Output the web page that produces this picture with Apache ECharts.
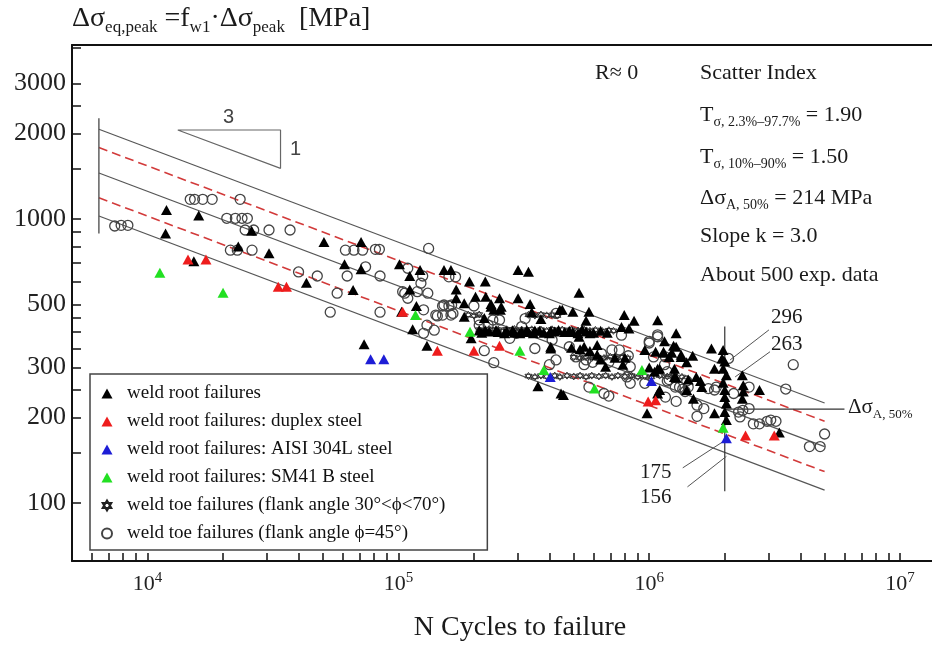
<!DOCTYPE html>
<html>
<head>
<meta charset="utf-8">
<title>S-N weld root / toe failures</title>
<script src="https://cdn.jsdelivr.net/npm/echarts@6/dist/echarts.min.js"></script>
<style>
  html, body { margin: 0; padding: 0; background: #fff; }
  #main { width: 932px; height: 645px; }
</style>
</head>
<body>
<div id="main"></div>
<script type="text/javascript">
// axis ranges / ticks
var xMin = 5000, xMax = 1.34e7;
var yMin = 62.5, yMax = 4100;
var xTicks = [6e3, 7e3, 8e3, 9e3, 1e4, 2e4, 3e4, 4e4, 5e4, 6e4, 7e4, 8e4, 9e4,
              1e5, 2e5, 3e5, 4e5, 5e5, 6e5, 7e5, 8e5, 9e5,
              1e6, 2e6, 3e6, 4e6, 5e6, 6e6, 7e6, 8e6, 9e6, 1e7];
var xLabels = [1e4, 1e5, 1e6, 1e7];
var yTicks = [100, 150, 200, 250, 300, 350, 400, 450, 500, 600, 700, 800, 900,
              1000, 1500, 2000, 2500, 3000, 4000];
var yLabels = [100, 200, 300, 500, 1000, 2000, 3000];

// S-N lines at N = 6400 and N = 5e6 (levels 296 / 263 / 214 / 175 / 156 at 2e6)
var snN = [6400, 5.0e6];
var snUpper = [2070, 225];
var snUpper10 = [1785, 194];
var snMid = [1452, 158];
var snLower10 = [1188, 129];
var snLower = [1025, 111];

// reference / leader lines
var leftBracket = [[6400, 2263], [6400, 890]];
var ref2e6 = [[2e6, 418], [2e6, 110]];
var ref214 = [[2e6, 214], [6.0e6, 214]];
var lead296 = [[3.0e6, 407], [2.1e6, 319]];
var lead263 = [[3.03e6, 341], [2.2e6, 278]];
var lead175 = [[1.36e6, 133], [2.0e6, 166]];
var lead156 = [[1.42e6, 114], [2.03e6, 146]];
var slopeTri = [[1.32e4, 2058], [3.39e4, 2058], [3.39e4, 1508], [1.32e4, 2058]];

// weld root failures
var rootBlack = [
  [1.19e4,1075],[1.6e4,1030],[1.18e4,890],[1.53e4,710],[2.6e4,910],[2.3e4,800],[3.05e4,757],[4.3e4,597],
  [5.05e4,830],[7.1e4,830],[6.1e4,693],[7.1e4,666],[1.01e5,693],[1.22e5,661],[1.11e5,630],[1.52e5,661],[1.62e5,661],
  [1.92e5,602],[2.22e5,602],[3.0e5,661],[3.3e5,652],[6.6e4,562],[1.11e5,565],[1.7e5,565],[2.03e5,532],[2.23e5,532],
  [2.53e5,526],[1.7e5,526],[1.83e5,505],[2.34e5,491],[2.57e5,491],[1.18e5,494],[1.03e5,472],[1.83e5,453],[1.14e5,409],
  [1.95e5,380],[2.22e5,406],[7.3e4,362],[1.3e5,358],
  [2.34e5,502],[3.0e5,526],[3.35e5,502],[2.2e5,448],[2.4e5,479],[2.55e5,479],[4.4e5,479],[4.05e5,355],[3.6e5,258],[4.45e5,243],
  [5.25e5,550],[4.5e5,479],[4.96e5,472],[5.75e5,472],[5.6e5,438],[7.95e5,459],[8.7e5,438],[7.75e5,417],[8.3e5,412],[1.08e6,440],[1.28e6,396],
  [4.05e5,404],[4.95e5,400],[5.25e5,385],[5.5e5,355],[6.2e5,360],[4.05e5,350],[6.2e5,333],[6.4e5,320],[7.3e5,325],[8.0e5,325],
  [6.7e5,302],[7.85e5,307],[9.6e5,346],[1.06e6,341],[1.14e6,341],[1.2e6,327],[1.34e6,327],[1.0e6,300],[1.08e6,297],[1.28e6,355],[1.41e6,313],[1.26e6,297],
  [4.55e5,240],[1.08e6,243],[1.26e6,278],
  [1.15e6,371],[1.25e6,358],[1.14e6,338],[1.23e6,338],[1.34e6,333],[1.49e6,330],[1.77e6,350],[1.97e6,346],[1.95e6,323],[2.0e6,315],
  [1.82e6,297],[1.97e6,297],[2.03e6,282],[1.05e6,290],[1.1e6,297],[1.28e6,276],[1.43e6,272],[1.54e6,278],[1.62e6,256],[1.6e6,269],
  [1.97e6,265],[2.0e6,250],[2.35e6,282],[2.37e6,260],[2.35e6,233],[2.37e6,247],[2.75e6,250],[2.0e6,236],[2.03e6,224],[1.82e6,207],
  [2.0e6,209],[2.03e6,196],[1.41e6,250],[1.5e6,233],[1.1e6,250],[9.8e5,207],[3.3e6,177],
  [2.1e5,405],[2.3e5,402],[2.5e5,400],[2.7e5,403],[2.9e5,398],[3.1e5,402],[3.3e5,400],[3.5e5,405],[3.8e5,398],
  [4.2e5,402],[4.6e5,400],[5.2e5,396],[5.6e5,402],[6.0e5,398],[3.4e5,470],[3.7e5,445],
  [2.15e5,398],[2.45e5,407],[2.65e5,396],[2.85e5,406],[3.05e5,396],[3.25e5,407],[3.45e5,396],[3.65e5,404],
  [4.0e5,396],[4.35e5,407],[4.8e5,404],[5.4e5,408],[5.8e5,396],[6.4e5,404],[6.8e5,398],
  [4.9e5,352],[5.3e5,348],[5.8e5,343]
];
var rootDuplex = [[1.45e4,721],[1.71e4,721],[3.32e4,577],[3.58e4,577],[1.43e5,344],[2.0e5,344],[2.53e5,358],
  [1.04e5,472],[9.9e5,228],[1.06e6,230],[2.42e6,173],[3.15e6,173]];
var rootAisi = [[7.75e4,321],[8.75e4,321],[4.03e5,278],[1.02e6,269],[2.03e6,169]];
var rootSm41 = [[1.12e4,647],[2.0e4,550],[1.17e5,459],[1.93e5,401],[3.05e5,344],[3.8e5,294],[9.35e5,294],[6.05e5,253],[1.97e6,184]];

// weld toe failures
var toeStar = [
  [2.1e5,408],[2.2e5,404],[2.3e5,410],[2.4e5,405],[2.5e5,408],[2.6e5,403],[2.7e5,409],[2.8e5,405],[2.9e5,410],[3.0e5,404],
  [3.1e5,408],[3.2e5,403],[3.4e5,409],[3.5e5,404],[3.7e5,408],[3.9e5,404],[4.1e5,409],[4.3e5,405],[4.5e5,408],[4.7e5,403],
  [4.9e5,408],[5.2e5,405],[5.5e5,408],[5.8e5,404],[6.1e5,407],[6.5e5,403],[6.9e5,406],[7.2e5,404],
  [3.3e5,280],[3.5e5,278],[3.7e5,281],[3.9e5,279],[4.2e5,281],[4.4e5,278],[4.7e5,281],[5.0e5,279],[5.3e5,281],[5.6e5,278],
  [5.9e5,281],[6.3e5,279],[6.7e5,281],[7.1e5,278],[7.5e5,281],[8.0e5,279],[8.5e5,281],[9.0e5,278],[9.6e5,280],[1.02e6,278],
  [1.1e6,281],[1.18e6,279],[1.26e6,281],[1.35e6,278],
  [5.0e5,326],[5.3e5,324],[5.6e5,327],[5.9e5,324],[6.2e5,326],[6.6e5,324],[7.0e5,327],[7.4e5,324],[7.8e5,326],[8.2e5,324],
  [3.3e5,460],[3.5e5,457],[3.7e5,461],[3.9e5,458],[4.1e5,460],[4.3e5,457],
  [1.9e5,460],[2.0e5,457],[2.1e5,461]
];
var toeCircle = [
  [7.4e3,945],[7.85e3,950],[8.35e3,950],[1.48e4,1173],[1.54e4,1173],[1.66e4,1173],[1.81e4,1173],[2.34e4,1173],
  [2.07e4,1006],[2.24e4,1006],[2.38e4,1006],[2.5e4,1006],[2.45e4,915],[2.65e4,915],[3.05e4,915],[3.7e4,915],
  [2.14e4,777],[2.28e4,777],[2.61e4,777],[4.0e4,651],[6.15e4,777],[6.65e4,777],[7.2e4,777],[8.1e4,782],[8.4e4,782],
  [1.32e5,788],[7.4e4,679],[8.45e4,630],[6.25e4,630],[4.75e4,630],[5.7e4,548],[5.35e4,470],[8.45e4,470],
  [1.04e5,555],[1.09e5,526],[1.23e5,594],[1.19e5,555],[1.31e5,548],[1.25e5,630],[1.59e5,626],[1.69e5,626],
  [1.5e5,494],[1.59e5,494],[1.43e5,456],[1.26e5,479],[1.3e5,423],[1.39e5,406],[1.26e5,396],[1.62e5,459],
  [2.0e5,494],[2.1e5,441],[2.38e5,441],[2.53e5,441],[2.2e5,344],[2.4e5,312],[2.78e5,380],[2.95e5,396],
  [1.09e5,671],[1.06e5,548],[1.41e5,459],[1.5e5,459],[1.52e5,498],[1.63e5,498],[1.65e5,465],[2.1e5,423],[2.28e5,423],
  [3.1e5,418],[3.2e5,446],[3.5e5,350],[4.1e5,375],[4.0e5,307],[4.25e5,465],
  [4.8e5,355],[4.25e5,319],[5.5e5,307],[5.95e5,313],[5.1e5,327],[7.1e5,346],[7.6e5,346],[6.45e5,336],[8.25e5,330],
  [8.4e5,302],[6.9e5,313],[7.75e5,390],[8.4e5,264],[9.6e5,264],[5.75e5,256],[6.6e5,243],[6.9e5,238],[8.15e5,278],
  [1.0e6,371],[1.08e6,385],[1.15e6,307],[1.18e6,269],[1.32e6,256],[1.41e6,269],[1.28e6,228],[1.39e6,247],[5.6e5,319],
  [1.08e6,391],[1.0e6,366],[1.16e6,327],[1.04e6,327],[1.18e6,290],[1.2e6,272],[1.27e6,256],[1.36e6,252],[1.43e6,256],
  [1.16e6,236],[1.55e6,221],[1.65e6,215],[1.55e6,202],[1.72e6,253],[1.82e6,250],[2.07e6,323],
  [2.27e6,209],[2.36e6,212],[2.5e6,215],[2.5e6,256],[2.17e6,243],[3.75e6,307],[3.5e6,252],
  [2.6e6,190],[2.75e6,190],[2.95e6,194],[3.05e6,196],[3.2e6,194],[5.0e6,175],[4.35e6,158],[4.8e6,158],
  [1.85e6,256],[2.3e6,201]
];

var names = [
  'weld root failures',
  'weld root failures: duplex steel',
  'weld root failures: AISI 304L steel',
  'weld root failures: SM41 B steel',
  'weld toe failures (flank angle 30°<ϕ<70°)',
  'weld toe failures (flank angle ϕ=45°)'
];

var serif = 'Liberation Serif';
var starPath = 'path://M0,-10L8.66,5L-8.66,5Z M0,10L8.66,-5L-8.66,-5Z';

function seg(data, color, width, type) {
  return {
    type: 'line', data: data, symbol: 'none', silent: true, z: 1,
    lineStyle: { color: color, width: width, type: type || 'solid' }
  };
}
function snLine(vals, color, width, type) {
  return seg([[snN[0], vals[0]], [snN[1], vals[1]]], color, width, type);
}
function dots(name, data, symbol, size, fill, border, bw, z) {
  return {
    name: name, type: 'scatter', data: data, symbol: symbol, symbolSize: size, z: z,
    itemStyle: { color: fill, borderColor: border, borderWidth: bw, opacity: 1 }
  };
}
function txt(left, top, text, size, extra) {
  var t = {
    left: left, top: top, text: text, padding: 0,
    textStyle: {
      fontFamily: serif, fontSize: size, fontWeight: 'normal', color: '#1a1a1a',
      rich: {
        a: { fontFamily: serif, fontSize: size, color: '#1a1a1a', lineHeight: size + 6 },
        s: { fontFamily: serif, fontSize: Math.round(size * 0.62), color: '#1a1a1a', verticalAlign: 'bottom' }
      }
    }
  };
  if (extra) { for (var k in extra) t.textStyle[k] = extra[k]; }
  return t;
}

var myChart = echarts.init(document.getElementById('main'));
myChart.setOption({
  animation: false,
  backgroundColor: '#fff',
  title: [
    txt(72, 2, '{a|Δσ}{s|eq,peak}{a| =f}{s|w1}{a|·Δσ}{s|peak}{a|  [MPa]}', 28),
    txt(595, 62, 'R≈ 0', 22),
    txt(700, 62, 'Scatter Index', 22),
    txt(700, 101, '{a|T}{s|σ, 2.3%–97.7%}{a| = 1.90}', 22),
    txt(700, 143, '{a|T}{s|σ, 10%–90%}{a| = 1.50}', 22),
    txt(700, 184, '{a|Δσ}{s|A, 50%}{a| = 214 MPa}', 22),
    txt(700, 225, 'Slope k = 3.0', 22),
    txt(700, 264, 'About 500 exp. data', 22),
    txt(771, 307, '296', 21),
    txt(771, 334, '263', 21),
    txt(640, 462, '175', 21),
    txt(640, 487, '156', 21),
    txt(848, 394, '{a|Δσ}{s|A, 50%}', 21),
    txt(223, 107, '3', 20, { fontFamily: 'Liberation Sans', color: '#444' }),
    txt(290, 139, '1', 20, { fontFamily: 'Liberation Sans', color: '#444' })
  ],
  legend: {
    left: 90, top: 374, orient: 'vertical', data: names, selectedMode: false,
    itemWidth: 11, itemHeight: 10, itemGap: 9,
    padding: [10, 42, 7, 11],
    backgroundColor: '#fff', borderColor: '#444', borderWidth: 1.5,
    formatter: function (n) { return '  ' + n; },
    textStyle: { fontFamily: serif, fontSize: 19, color: '#111' }
  },
  grid: { left: 72, right: 0, top: 45, bottom: 84, outerBoundsMode: 'none', containLabel: false },
  xAxis: [{
    type: 'log', logBase: 10, min: xMin, max: xMax,
    name: 'N Cycles to failure', nameLocation: 'middle', nameGap: 53,
    nameTextStyle: { fontFamily: serif, fontSize: 28, color: '#1a1a1a', padding: [0, 0, 0, 36] },
    axisLine: { lineStyle: { color: '#111', width: 2 } },
    axisTick: { inside: true, length: 8, customValues: xTicks, lineStyle: { color: '#111', width: 1.5 } },
    axisLabel: {
      customValues: xLabels, margin: 10,
      formatter: function (v) { return '{b|10}{s|' + Math.round(Math.log10(v)) + '}'; },
      rich: {
        b: { fontFamily: serif, fontSize: 22, color: '#222', lineHeight: 27 },
        s: { fontFamily: serif, fontSize: 15, color: '#222', verticalAlign: 'top' }
      }
    },
    splitLine: { show: false }, minorTick: { show: false }
  }, {
    type: 'log', logBase: 10, min: xMin, max: xMax, position: 'top',
    axisLine: { lineStyle: { color: '#111', width: 2 } },
    axisTick: { show: false }, axisLabel: { show: false }, splitLine: { show: false }
  }],
  yAxis: {
    type: 'log', logBase: 10, min: yMin, max: yMax,
    axisLine: { show: true, lineStyle: { color: '#111', width: 2 } },
    axisTick: { show: true, inside: true, length: 9, customValues: yTicks, lineStyle: { color: '#111', width: 1.5 } },
    axisLabel: {
      customValues: yLabels, margin: 6, fontFamily: serif, fontSize: 26, color: '#222',
      formatter: function (v) { return String(Math.round(v)); }
    },
    splitLine: { show: false }
  },
  series: [
    snLine(snUpper, '#555', 1.2),
    snLine(snUpper10, '#d23a3a', 1.6, [9, 5]),
    snLine(snMid, '#555', 1.2),
    snLine(snLower10, '#d23a3a', 1.6, [9, 5]),
    snLine(snLower, '#555', 1.2),
    seg(leftBracket, '#555', 1.4),
    seg(ref2e6, '#333', 1.2),
    seg(ref214, '#333', 1.2),
    seg(lead296, '#555', 1),
    seg(lead263, '#555', 1),
    seg(lead175, '#555', 1),
    seg(lead156, '#555', 1),
    seg(slopeTri, '#666', 1.2),
    dots(names[5], toeCircle, 'circle', 10, 'rgba(255,255,255,0)', '#444', 1.3, 3),
    dots(names[4], toeStar, starPath, 7, '#fff', '#222', 0.9, 4),
    dots(names[0], rootBlack, 'triangle', [11, 10], '#000', '#000', 0, 5),
    dots(names[1], rootDuplex, 'triangle', [11, 10], '#ee1c1c', '#ee1c1c', 0, 6),
    dots(names[2], rootAisi, 'triangle', [11, 10], '#1d1dd6', '#1d1dd6', 0, 6),
    dots(names[3], rootSm41, 'triangle', [11, 10], '#22e022', '#22e022', 0, 6)
  ]
});
</script>
</body>
</html>
